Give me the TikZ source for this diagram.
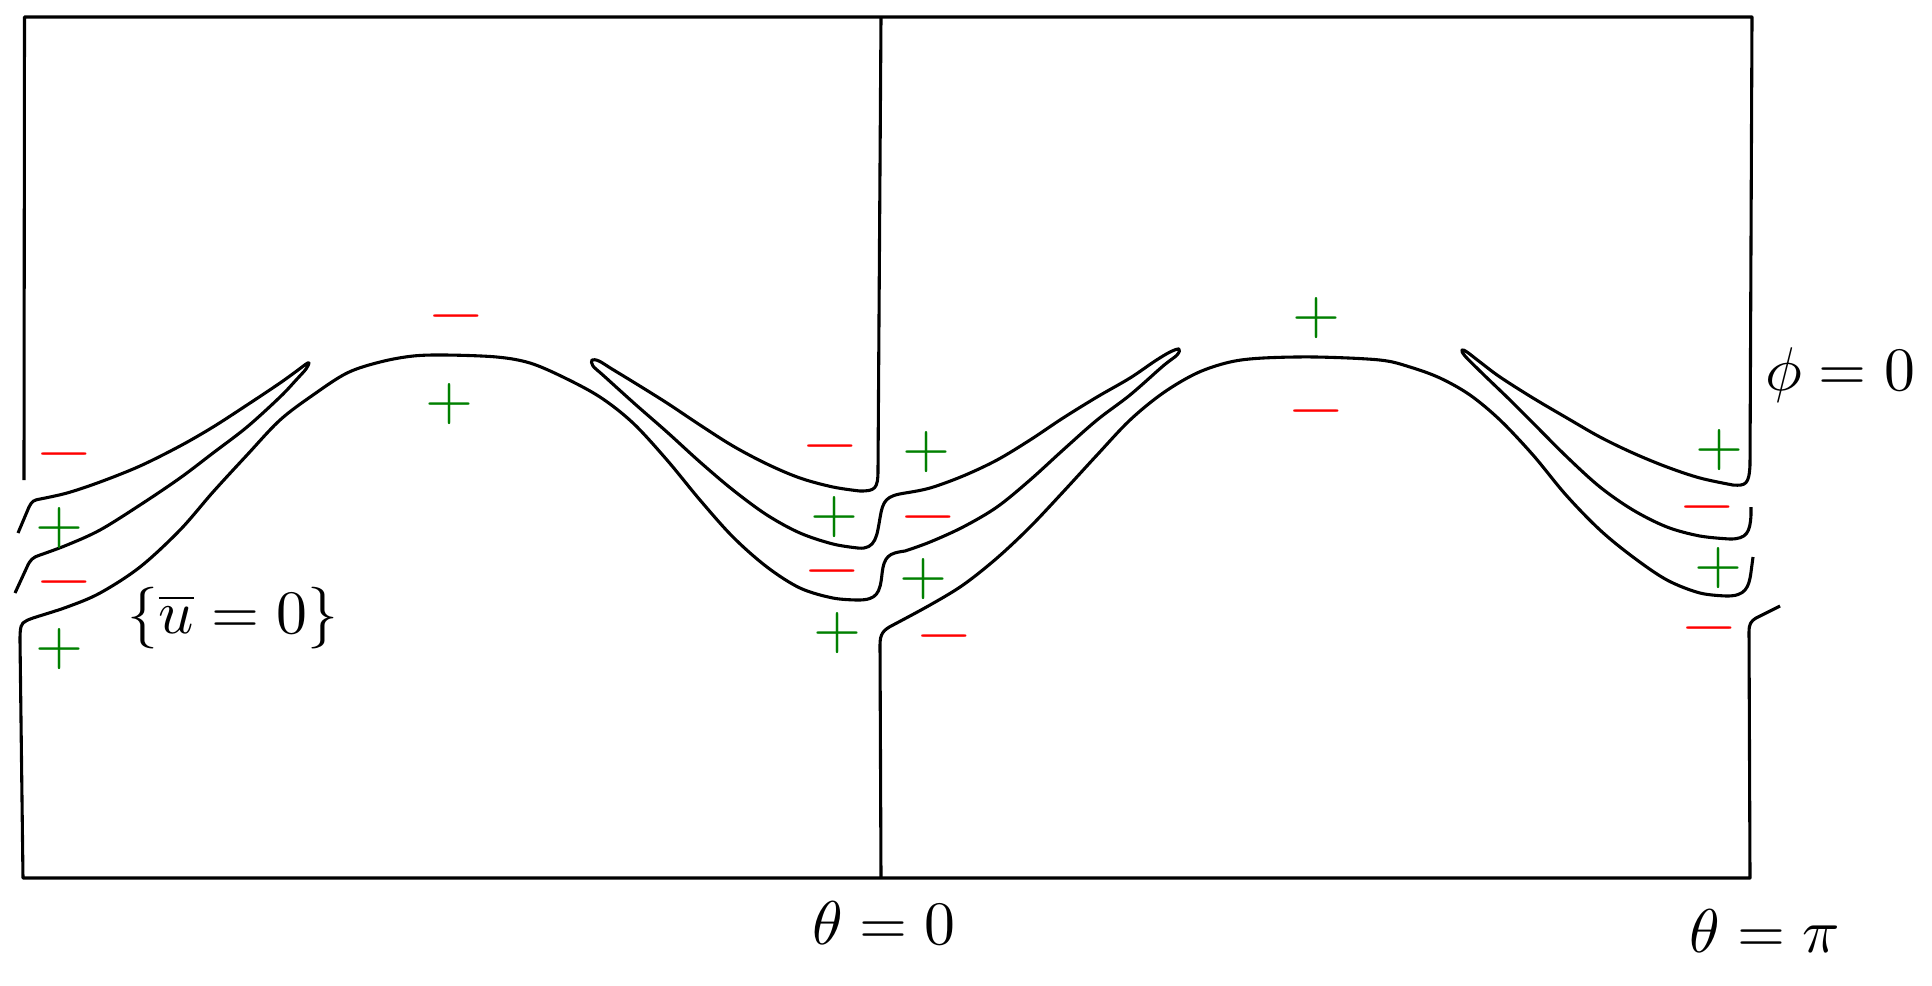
\documentclass[tikz,border=0pt]{standalone}
\definecolor{grn}{RGB}{0,128,0}
\newcommand{\wideminus}{\scalebox{1.2}[1]{$-$}}
\begin{document}
\begin{tikzpicture}[x=0.162pt,y=-0.162pt,
  curve/.style={line width=0.5pt,line join=round},
  sm/.style={smooth,tension=0.55},
  pl/.style={text=grn,inner sep=0pt,font=\normalsize},
  mi/.style={text=red,inner sep=0pt,font=\normalsize},
  lab/.style={inner sep=0pt}]
\useasboundingbox (0,0) rectangle (1932,985);
% frame top, left stub and right loop
\draw[curve] (24,480) -- (24.5,17) -- (1752,17) -- (1750,465)
  .. controls (1749,484) and (1746,486) .. (1733,485)
  -- plot[sm] coordinates {(1733,485) (1700,478) (1667,467) (1633,453) (1600,437)
     (1567,418) (1533,398) (1500,377) (1480,362) (1467,352) (1462,350) (1465,356)
     (1483,374) (1510,400) (1533,423) (1567,457) (1600,487) (1633,510) (1667,527)
     (1700,536) (1730,539)}
  .. controls (1747,539) and (1750,532) .. (1751,515) -- (1751,507);
% middle chain
\draw[curve] (881,17) -- (878,470)
  .. controls (878,489) and (875,491) .. (860,491)
  -- plot[sm] coordinates {(860,491) (833,487) (800,478) (767,464) (733,446) (700,425)
     (667,403) (635,383) (612,369) (599,361) (592,360) (593,366) (604,376) (635,404)
     (667,432) (700,462) (733,490) (767,515) (800,533) (833,544) (858,548)}
  .. controls (876,550) and (877,535) .. (880,518)
  .. controls (883,500) and (886,496) .. (905,493)
  -- plot[sm] coordinates {(905,493) (930,488) (963,476) (997,460) (1030,440) (1063,418)
     (1097,397) (1130,378) (1155,361) (1170,352) (1179,349) (1177,355) (1163,366)
     (1130,395) (1097,420) (1063,450) (1030,480) (997,507) (963,527) (930,542) (905,551)}
  .. controls (889,553) and (884,556) .. (882,574)
  .. controls (880,593) and (877,600) .. (858,600)
  -- plot[sm] coordinates {(858,600) (833,598) (800,588) (767,567) (733,537) (700,500)
     (667,460) (633,423) (600,397) (563,377) (530,363) (497,357) (447,355) (413,356)
     (380,362) (347,373) (313,395) (280,420) (247,455) (213,492) (180,530) (140,567)
     (100,593) (67,607) (33,618) (26,621)}
  .. controls (21,623) and (20,627) .. (20,640) -- (23,878) -- (1750,878) -- (1749,632)
  .. controls (1749,624) and (1751,621) .. (1756,618) -- (1780,606);
% middle bottom and right hump
\draw[curve] (881,878) -- (880,645)
  .. controls (880,634) and (883,630) .. (893,625)
  -- plot[sm] coordinates {(893,625) (930,605) (963,585) (997,558) (1030,527) (1063,492)
     (1097,455) (1130,420) (1163,393) (1197,373) (1230,362) (1263,358) (1317,357)
     (1380,360) (1410,367) (1440,378) (1470,395) (1500,420) (1533,455) (1566,495)
     (1600,530) (1633,557) (1667,580) (1700,593) (1727,596)}
  .. controls (1745,596) and (1749,588) .. (1751,572) -- (1753,557);
% left loop
\draw[curve] (18,533) -- (29,507)
  .. controls (32,501) and (34,500) .. (40,499)
  -- plot[sm] coordinates {(40,499) (67,493) (100,482) (140,466) (180,446) (213,427)
     (247,405) (280,383) (298,370) (306,364) (309,363) (306,369) (297,379) (280,397)
     (247,427) (213,453) (180,478) (140,505) (100,530) (67,545) (40,555)}
  .. controls (33,557) and (30,560) .. (27,567) -- (15,593);
% signs
\node[pl] (p1) at (450,404) {$+$};
\node[pl] (p2) at (1316,318) {$+$};
\node[pl] (p3) at (926,452) {$+$};
\node[pl] (p4) at (1719,450) {$+$};
\node[pl] (p5) at (60,528) {$+$};
\node[pl] (p6) at (834,517) {$+$};
\node[pl] (p7) at (923,579) {$+$};
\node[pl] (p8) at (1718,568) {$+$};
\node[pl] (p9) at (60,649) {$+$};
\node[pl] (p10) at (837,633) {$+$};
\node[mi] (m1) at (456,316) {\wideminus};
\node[mi] (m2) at (64,454) {\wideminus};
\node[mi] (m3) at (830,446) {\wideminus};
\node[mi] (m4) at (1316,411) {\wideminus};
\node[mi] (m5) at (928,517) {\wideminus};
\node[mi] (m6) at (1707,507) {\wideminus};
\node[mi] (m7) at (64,582) {\wideminus};
\node[mi] (m8) at (832,571) {\wideminus};
\node[mi] (m9) at (1709,628) {\wideminus};
\node[mi] (m10) at (944,636) {\wideminus};
% labels
\node[lab] (ubar) at (233,618) {$\{\overline{u}=0\}$};
\node[lab] (phi) at (1840,375) {$\phi = 0$};
\node[lab] (th0) at (884,923) {$\theta = 0$};
\node[lab] (thpi) at (1765,931) {$\theta = \pi$};
\end{tikzpicture}
\end{document}
